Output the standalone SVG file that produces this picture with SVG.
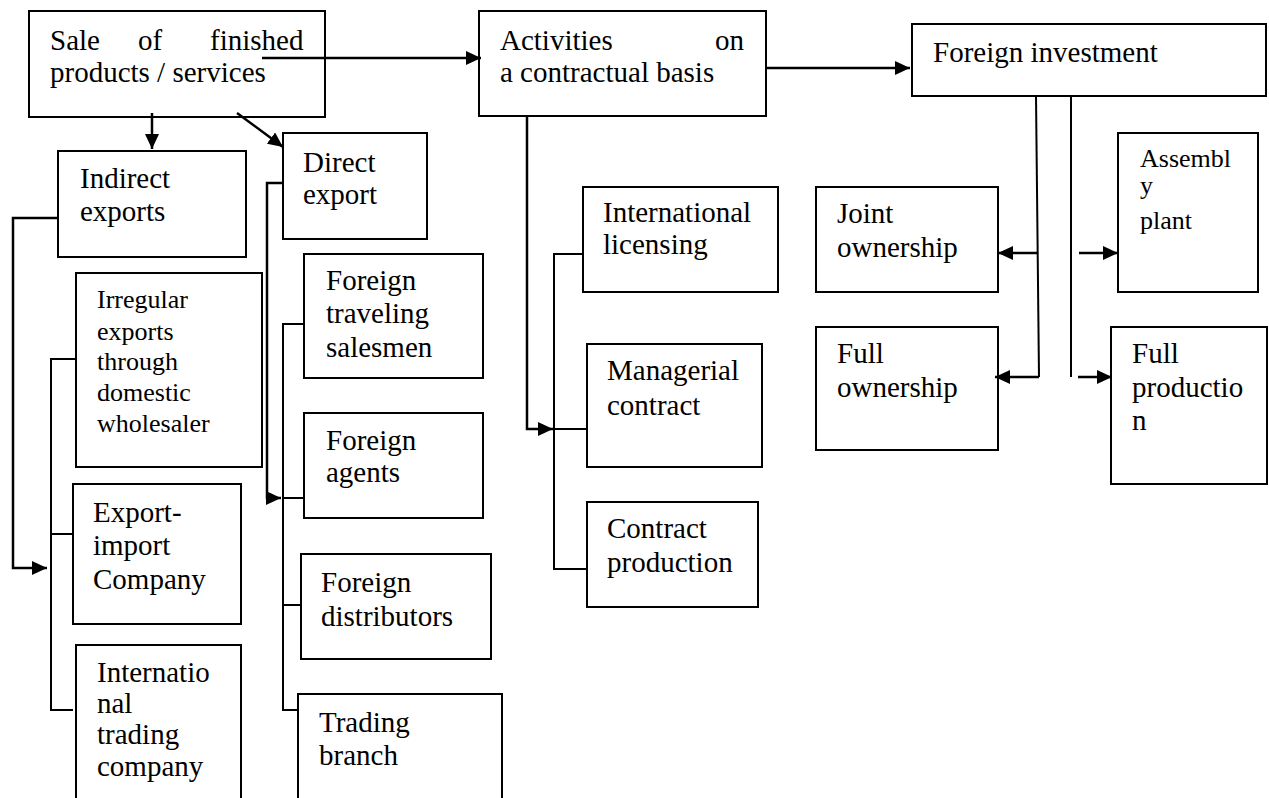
<svg xmlns="http://www.w3.org/2000/svg" width="1269" height="798" viewBox="0 0 1269 798">
  <defs>
    <marker id="arrow" markerUnits="userSpaceOnUse" markerWidth="16" markerHeight="14" refX="15" refY="7" orient="auto">
      <path d="M0,0 L15,7 L0,14 z" fill="#000"/>
    </marker>
    <style>
      .box { fill: #fff; stroke: #000; stroke-width: 2; }
      .t { font-family: "Liberation Serif", "Times New Roman", serif; font-size: 29px; fill: #000; }
      .s { font-size: 26px; }
      .wire { fill: none; stroke: #000; stroke-width: 2; }
      .arr { fill: none; stroke: #000; stroke-width: 2.5; marker-end: url(#arrow); }
    </style>
  </defs>
  <rect width="1269" height="798" fill="#fff"/>

  <!-- nodes -->
  <g id="sale">
    <rect class="box" x="29" y="11" width="296" height="106"/>
    <text class="t" x="50" y="50">Sale</text>
    <text class="t" x="138" y="50">of</text>
    <text class="t" x="210" y="50">finished</text>
    <text class="t" x="50" y="82">products / services</text>
  </g>
  <g id="contractual">
    <rect class="box" x="479" y="11" width="287" height="105"/>
    <text class="t" x="500" y="50">Activities</text>
    <text class="t" x="715" y="50">on</text>
    <text class="t" x="500" y="82">a contractual basis</text>
  </g>
  <g id="foreign-investment">
    <rect class="box" x="912" y="24" width="354" height="72"/>
    <text class="t" x="933" y="62">Foreign investment</text>
  </g>
  <g id="indirect">
    <rect class="box" x="58" y="151" width="188" height="106"/>
    <text class="t" x="80" y="188">Indirect</text>
    <text class="t" x="80" y="221">exports</text>
  </g>
  <g id="direct">
    <rect class="box" x="283" y="133" width="144" height="106"/>
    <text class="t" x="303" y="172">Direct</text>
    <text class="t" x="303" y="204">export</text>
  </g>
  <g id="irregular">
    <rect class="box" x="76" y="273" width="186" height="194"/>
    <text class="t s" x="97" y="308">Irregular</text>
    <text class="t s" x="97" y="340">exports</text>
    <text class="t s" x="97" y="370">through</text>
    <text class="t s" x="97" y="401">domestic</text>
    <text class="t s" x="97" y="432">wholesaler</text>
  </g>
  <g id="export-import">
    <rect class="box" x="73" y="484" width="168" height="140"/>
    <text class="t" x="93" y="522">Export-</text>
    <text class="t" x="93" y="555">import</text>
    <text class="t" x="93" y="589">Company</text>
  </g>
  <g id="intl-trading">
    <rect class="box" x="76" y="645" width="165" height="170"/>
    <text class="t" x="97" y="682">Internatio</text>
    <text class="t" x="97" y="713">nal</text>
    <text class="t" x="97" y="744">trading</text>
    <text class="t" x="97" y="776">company</text>
  </g>
  <g id="traveling">
    <rect class="box" x="304" y="254" width="179" height="124"/>
    <text class="t" x="326" y="290">Foreign</text>
    <text class="t" x="326" y="323">traveling</text>
    <text class="t" x="326" y="357">salesmen</text>
  </g>
  <g id="agents">
    <rect class="box" x="304" y="413" width="179" height="105"/>
    <text class="t" x="326" y="450">Foreign</text>
    <text class="t" x="326" y="482">agents</text>
  </g>
  <g id="distributors">
    <rect class="box" x="301" y="554" width="190" height="105"/>
    <text class="t" x="321" y="592">Foreign</text>
    <text class="t" x="321" y="626">distributors</text>
  </g>
  <g id="branch">
    <rect class="box" x="298" y="694" width="204" height="120"/>
    <text class="t" x="319" y="732">Trading</text>
    <text class="t" x="319" y="765">branch</text>
  </g>
  <g id="licensing">
    <rect class="box" x="583" y="187" width="195" height="105"/>
    <text class="t" x="603" y="222">International</text>
    <text class="t" x="603" y="254">licensing</text>
  </g>
  <g id="managerial">
    <rect class="box" x="587" y="344" width="175" height="123"/>
    <text class="t" x="607" y="380">Managerial</text>
    <text class="t" x="607" y="415">contract</text>
  </g>
  <g id="contract-production">
    <rect class="box" x="587" y="502" width="171" height="105"/>
    <text class="t" x="607" y="538">Contract</text>
    <text class="t" x="607" y="572">production</text>
  </g>
  <g id="joint">
    <rect class="box" x="816" y="187" width="182" height="105"/>
    <text class="t" x="837" y="223">Joint</text>
    <text class="t" x="837" y="257">ownership</text>
  </g>
  <g id="full-ownership">
    <rect class="box" x="816" y="327" width="182" height="123"/>
    <text class="t" x="837" y="363">Full</text>
    <text class="t" x="837" y="397">ownership</text>
  </g>
  <g id="assembly">
    <rect class="box" x="1118" y="133" width="140" height="159"/>
    <text class="t s" x="1140" y="167">Assembl</text>
    <text class="t s" x="1140" y="194">y</text>
    <text class="t s" x="1140" y="229">plant</text>
  </g>
  <g id="full-production">
    <rect class="box" x="1111" y="327" width="156" height="157"/>
    <text class="t" x="1132" y="363">Full</text>
    <text class="t" x="1132" y="397">productio</text>
    <text class="t" x="1132" y="430">n</text>
  </g>

  <!-- connectors -->
  <g id="connectors">
    <path class="arr" d="M262,58 H481"/>
    <path class="arr" d="M766,68 H910"/>
    <path class="arr" d="M152,113 V149"/>
    <path class="arr" d="M237,113 L283,147"/>

    <path class="arr" d="M58,218 H13 V568 H47"/>
    <path class="wire" d="M76,359 H51 V710 H73 M51,534 H73"/>

    <path class="arr" d="M283,183 H267 V498 H281"/>
    <path class="wire" d="M304,324 H283 V710 H298 M283,498 H304 M283,605 H301"/>

    <path class="arr" d="M527,116 V429 H553"/>
    <path class="wire" d="M583,254 H554 V569 H587 M554,429 H587"/>

    <path class="wire" d="M1036,96 L1039,377"/>
    <path class="arr" d="M1037,253 H998"/>
    <path class="arr" d="M1039,377 H995"/>
    <path class="wire" d="M1071,96 V377"/>
    <path class="arr" d="M1079,253 H1118"/>
    <path class="arr" d="M1078,377 H1112"/>
  </g>
</svg>
